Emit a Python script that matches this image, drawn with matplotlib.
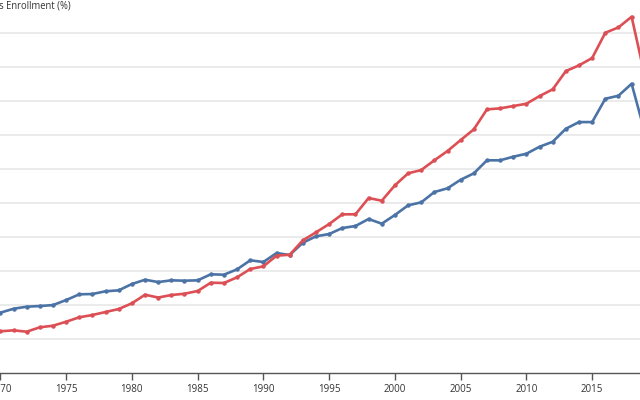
import matplotlib.pyplot as plt
import numpy as np

plt.rcParams['font.family'] = ['Open Sans', 'DejaVu Sans']

# Data (percent)
years = np.arange(1969, 2020)
male = [8.1, 8.88, 9.46, 9.76, 9.86, 10.0, 10.74, 11.58, 11.63, 12.03, 12.17,
        13.1, 13.73, 13.39, 13.64, 13.59, 13.64, 14.53, 14.47, 15.26, 16.59,
        16.34, 17.66, 17.37, 19.18, 20.12, 20.46, 21.34, 21.64, 22.67, 21.98,
        23.26, 24.68, 25.12, 26.64, 27.19, 28.45, 29.39, 31.31, 31.31, 31.84,
        32.28, 33.31, 34.04, 35.96, 36.94, 36.94, 40.37, 40.82, 42.58, 35.47]
female = [6.03, 6.14, 6.28, 6.08, 6.73, 6.96, 7.55, 8.2, 8.54, 8.98, 9.42,
          10.26, 11.52, 11.11, 11.48, 11.67, 12.07, 13.29, 13.25, 14.09, 15.31,
          15.7, 17.27, 17.41, 19.53, 20.71, 21.93, 23.36, 23.36, 25.76, 25.36,
          27.63, 29.39, 29.88, 31.31, 32.68, 34.29, 35.87, 38.81, 38.96, 39.3,
          39.64, 40.77, 41.76, 44.45, 45.29, 46.37, 50.09, 50.88, 52.44, 43.76]
x_ticks = [1970, 1975, 1980, 1985, 1990, 1995, 2000, 2005, 2010, 2015]
y_ticks = [5, 10, 15, 20, 25, 30, 35, 40, 45, 50]

fig = plt.figure(figsize=(6.4, 4), dpi=100)
# axes run past the figure edges, like the cropped reference
ax = fig.add_axes([-0.0405, 0.0675, 1.0685, 0.934])

ax.plot(years, male, color='#4b73a6', lw=1.9, marker='o', ms=2.2, zorder=3)
ax.plot(years, female, color='#dc5055', lw=1.9, marker='o', ms=2.2, zorder=3)

ax.set_xlim(1968, 2020)
ax.set_ylim(0, 55)
ax.set_xticks(x_ticks)
ax.set_yticks(y_ticks)
ax.set_yticklabels([])
ax.tick_params(axis='y', length=0)
ax.tick_params(axis='x', length=5, width=1, color='#555555', labelsize=7.0,
               labelcolor='#333333', pad=3)
ax.grid(axis='y', color='#e8e8e8', lw=1.2)
ax.set_axisbelow(True)
for s in ['left', 'right', 'top']:
    ax.spines[s].set_visible(False)
ax.spines['bottom'].set_color('#555555')
ax.spines['bottom'].set_linewidth(1)

fig.text(71 / 640, 1 - 6 / 400, 'Gross Enrollment (%)', ha='right', va='center',
         fontsize=6.85, color='#333333')

plt.savefig('out.png', dpi=100)
plt.close()
